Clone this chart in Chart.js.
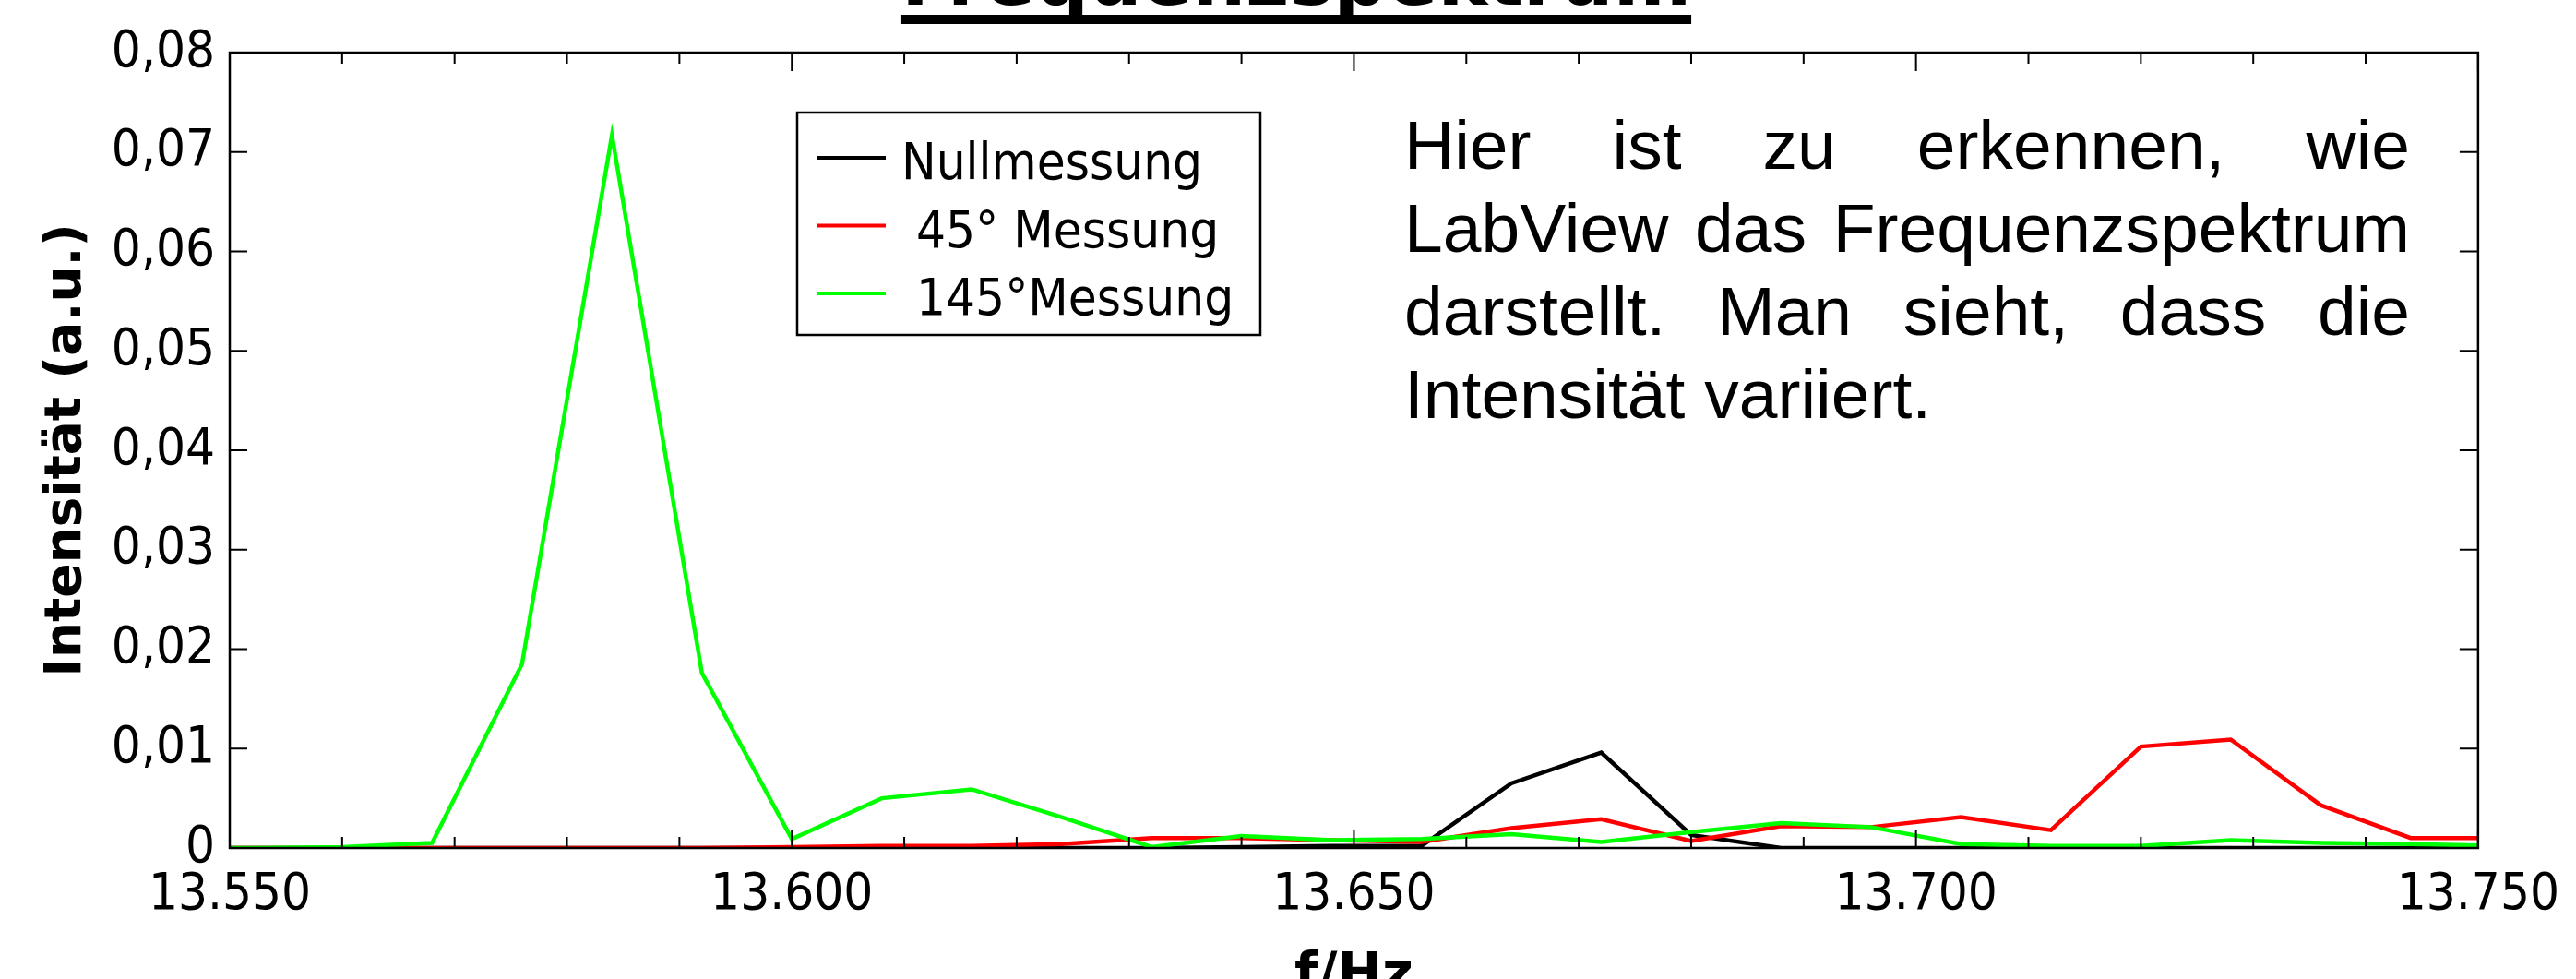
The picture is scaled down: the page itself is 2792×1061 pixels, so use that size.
<!DOCTYPE html>
<html>
<head>
<meta charset="utf-8">
<title>Frequenzspektrum</title>
<script src="https://cdn.jsdelivr.net/npm/chart.js@4.4.1/dist/chart.umd.min.js"></script>
<style>
  html, body { margin: 0; padding: 0; background: #fff; }
  #wrap { width: 2792px; height: 1061px; }
</style>
</head>
<body>
<div id="wrap"><canvas id="spektrum" width="2792" height="1061"></canvas></div>
<script>
// Frequenz-Bins (Hz, wie in der Achse mit Tausenderpunkt beschriftet)
var frequenzen = [13.544, 13.552, 13.560, 13.568, 13.576, 13.584, 13.592, 13.600, 13.608,
                  13.616, 13.624, 13.632, 13.640, 13.648, 13.656, 13.664, 13.672, 13.680,
                  13.688, 13.696, 13.704, 13.712, 13.720, 13.728, 13.736, 13.744, 13.752];

var nullmessung = [0, 0, 0, 0, 0, 0, 0, 0, 0,
                   0, 0, 0, 0.0001, 0.0002, 0.0002, 0.0065, 0.0096, 0.0013,
                   0, 0, 0, 0, 0, 0, 0, 0, 0];

var messung45 = [0, 0, 0, 0, 0, 0, 0, 0.0001, 0.0002,
                 0.0002, 0.0004, 0.0010, 0.0010, 0.0008, 0.0006, 0.0020, 0.0029, 0.0007,
                 0.0022, 0.0021, 0.0031, 0.0018, 0.0102, 0.0109, 0.0043, 0.0010, 0.0010];

var messung145 = [0, 0, 0.0001, 0.0005, 0.0185, 0.0717, 0.0176, 0.0009, 0.0050,
                  0.0059, 0.0031, 0.0001, 0.0012, 0.0008, 0.0009, 0.0014, 0.0006, 0.0016,
                  0.0025, 0.0021, 0.0004, 0.0002, 0.0002, 0.0008, 0.0005, 0.0004, 0.0002];

var serienNamen = ['Nullmessung', ' 45° Messung', ' 145°Messung'];
var serienFarben = ['#000000', '#ff0000', '#00ff00'];

var xTickWerte = [13.55, 13.60, 13.65, 13.70, 13.75];
var xTickLabels = ['13.550', '13.600', '13.650', '13.700', '13.750'];
var xMinorWerte = [13.56, 13.57, 13.58, 13.59, 13.61, 13.62, 13.63, 13.64,
                   13.66, 13.67, 13.68, 13.69, 13.71, 13.72, 13.73, 13.74];
var yTickWerte = [0, 0.01, 0.02, 0.03, 0.04, 0.05, 0.06, 0.07, 0.08];
var yTickLabels = ['0', '0,01', '0,02', '0,03', '0,04', '0,05', '0,06', '0,07', '0,08'];

var notizZeilen = [
    'Hier ist zu erkennen, wie',
    'LabView das Frequenzspektrum',
    'darstellt. Man sieht, dass die',
    'Intensität variiert.'
];

var TICK_FONT = "'DejaVu Sans Condensed', 'DejaVu Sans', sans-serif";
var BOLD_FONT = "'DejaVu Sans', Verdana, sans-serif";

function punkte(werte) {
    return frequenzen.map(function(f, i) { return { x: f, y: werte[i] }; });
}

// Rahmen, nach innen zeigende Ticks, Legende, Notiz und Titel
var rahmenPlugin = {
    id: 'rahmen',
    afterDraw: function(chart) {
        var ctx = chart.ctx;
        var a = chart.chartArea;
        var xs = chart.scales.x, ys = chart.scales.y;

        ctx.save();
        ctx.strokeStyle = '#000';
        ctx.lineWidth = 2.5;
        ctx.strokeRect(a.left, a.top, a.right - a.left, a.bottom - a.top);

        ctx.lineWidth = 2;
        ctx.beginPath();
        yTickWerte.forEach(function(v) {
            var py = ys.getPixelForValue(v);
            ctx.moveTo(a.left, py); ctx.lineTo(a.left + 19, py);
            ctx.moveTo(a.right, py); ctx.lineTo(a.right - 20, py);
        });
        xTickWerte.forEach(function(v) {
            var px = xs.getPixelForValue(v);
            ctx.moveTo(px, a.bottom); ctx.lineTo(px, a.bottom - 20);
            ctx.moveTo(px, a.top); ctx.lineTo(px, a.top + 20);
        });
        xMinorWerte.forEach(function(v) {
            var px = xs.getPixelForValue(v);
            ctx.moveTo(px, a.bottom); ctx.lineTo(px, a.bottom - 12);
            ctx.moveTo(px, a.top); ctx.lineTo(px, a.top + 12);
        });
        ctx.stroke();

        // Legende
        ctx.fillStyle = '#fff';
        ctx.fillRect(864, 122, 502, 241);
        ctx.lineWidth = 2.5;
        ctx.strokeRect(864, 122, 502, 241);
        ctx.font = '56px ' + TICK_FONT;
        ctx.textBaseline = 'alphabetic';
        ctx.textAlign = 'left';
        chart.data.datasets.forEach(function(ds, i) {
            var ly = 171 + i * 73.5;
            ctx.strokeStyle = ds.borderColor;
            ctx.lineWidth = 4;
            ctx.beginPath();
            ctx.moveTo(886, ly); ctx.lineTo(960, ly);
            ctx.stroke();
            ctx.fillStyle = '#000';
            ctx.fillText(ds.label, 977, ly + 23);
        });

        // Notiz im Blocksatz
        ctx.font = "75px 'Liberation Sans', Arial, sans-serif";
        ctx.fillStyle = '#000';
        var links = 1522, breite = 1090;
        notizZeilen.forEach(function(zeile, i) {
            var by = 183 + i * 90;
            var woerter = zeile.split(' ');
            if (i === notizZeilen.length - 1 || woerter.length < 2) {
                ctx.fillText(zeile, links, by);
                return;
            }
            var summe = 0;
            woerter.forEach(function(w) { summe += ctx.measureText(w).width; });
            var luecke = (breite - summe) / (woerter.length - 1);
            var cx = links;
            woerter.forEach(function(w) {
                ctx.fillText(w, cx, by);
                cx += ctx.measureText(w).width + luecke;
            });
        });

        // Titel, oben angeschnitten
        ctx.font = 'bold 81px ' + BOLD_FONT;
        ctx.textAlign = 'center';
        var tw = ctx.measureText('Frequenzspektrum').width;
        ctx.fillText('Frequenzspektrum', 1405, 5);
        ctx.fillRect(1405 - tw / 2, 16, tw, 10);
        ctx.restore();
    }
};

new Chart(document.getElementById('spektrum'), {
    type: 'line',
    data: {
        datasets: [{
            label: serienNamen[0],
            data: punkte(nullmessung),
            borderColor: serienFarben[0],
            order: 2
        }, {
            label: serienNamen[1],
            data: punkte(messung45),
            borderColor: serienFarben[1],
            order: 1
        }, {
            label: serienNamen[2],
            data: punkte(messung145),
            borderColor: serienFarben[2],
            order: 0
        }]
    },
    options: {
        responsive: false,
        animation: false,
        elements: {
            line: { borderWidth: 4.5, tension: 0, fill: false },
            point: { radius: 0 }
        },
        layout: { padding: { top: 57, right: 93, left: 0, bottom: 0 } },
        plugins: {
            legend: { display: false },
            tooltip: { enabled: false },
            title: { display: false }
        },
        scales: {
            x: {
                type: 'linear',
                min: 13.55,
                max: 13.75,
                afterBuildTicks: function(s) {
                    s.ticks = xTickWerte.map(function(v) { return { value: v }; });
                },
                afterFit: function(s) { s.height = 142; },
                ticks: {
                    callback: function(v, i) { return xTickLabels[i]; },
                    font: { family: TICK_FONT, size: 56 },
                    color: '#000',
                    padding: 18,
                    maxRotation: 0,
                    autoSkip: false
                },
                grid: { display: false, drawTicks: false },
                border: { display: false },
                title: {
                    display: true,
                    text: 'f/Hz',
                    font: { family: BOLD_FONT, size: 58, weight: 'bold' },
                    color: '#000',
                    padding: { top: 0, bottom: -33 }
                }
            },
            y: {
                type: 'linear',
                min: 0,
                max: 0.08,
                afterBuildTicks: function(s) {
                    s.ticks = yTickWerte.map(function(v) { return { value: v }; });
                },
                afterFit: function(s) { s.width = 249; },
                ticks: {
                    callback: function(v, i) { return yTickLabels[i]; },
                    font: { family: TICK_FONT, size: 56 },
                    color: '#000',
                    padding: 16,
                    autoSkip: false
                },
                grid: { display: false, drawTicks: false },
                border: { display: false },
                title: {
                    display: true,
                    text: 'Intensität (a.u.)',
                    font: { family: BOLD_FONT, size: 55, weight: 'bold' },
                    color: '#000',
                    padding: { top: 40, bottom: 0 }
                }
            }
        }
    },
    plugins: [rahmenPlugin]
});
</script>
</body>
</html>
